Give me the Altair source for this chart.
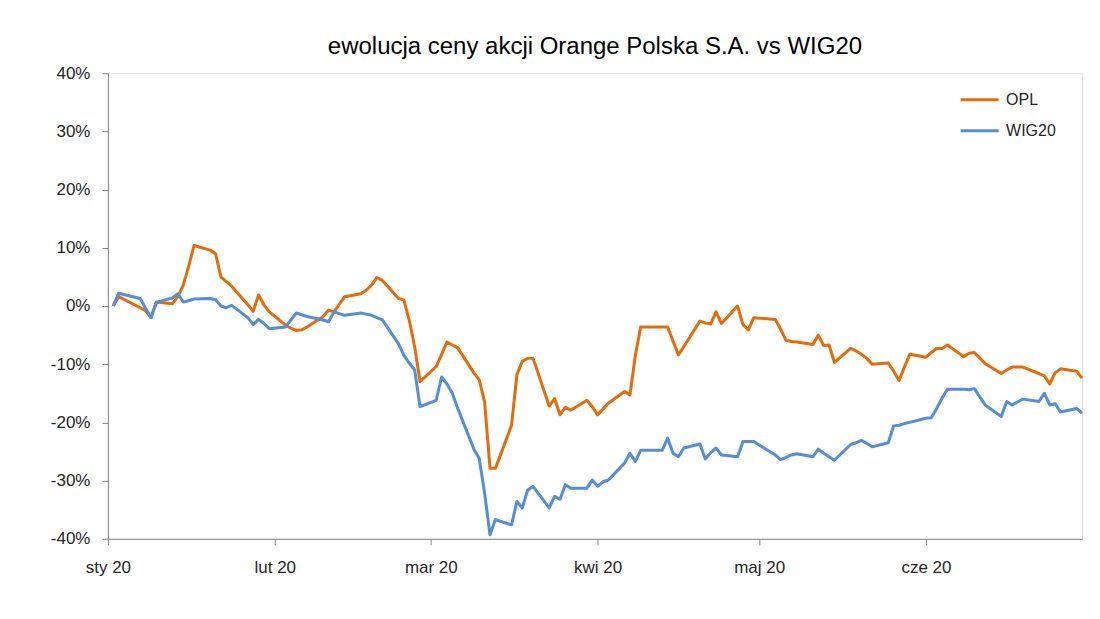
import altair as alt
import pandas as pd

# trading days (Apr 10 / Apr 13 kept flat as in the source chart)
dates = [
    "2020-01-02", "2020-01-03", "2020-01-07", "2020-01-08", "2020-01-09", "2020-01-10",
    "2020-01-13", "2020-01-14", "2020-01-15", "2020-01-16", "2020-01-17",
    "2020-01-20", "2020-01-21", "2020-01-22", "2020-01-23", "2020-01-24",
    "2020-01-27", "2020-01-28", "2020-01-29", "2020-01-30", "2020-01-31",
    "2020-02-03", "2020-02-04", "2020-02-05", "2020-02-06", "2020-02-07",
    "2020-02-10", "2020-02-11", "2020-02-12", "2020-02-13", "2020-02-14",
    "2020-02-17", "2020-02-18", "2020-02-19", "2020-02-20", "2020-02-21",
    "2020-02-24", "2020-02-25", "2020-02-26", "2020-02-27", "2020-02-28",
    "2020-03-02", "2020-03-03", "2020-03-04", "2020-03-05", "2020-03-06",
    "2020-03-09", "2020-03-10", "2020-03-11", "2020-03-12", "2020-03-13",
    "2020-03-16", "2020-03-17", "2020-03-18", "2020-03-19", "2020-03-20",
    "2020-03-23", "2020-03-24", "2020-03-25", "2020-03-26", "2020-03-27",
    "2020-03-30", "2020-03-31", "2020-04-01", "2020-04-02", "2020-04-03",
    "2020-04-06", "2020-04-07", "2020-04-08", "2020-04-09", "2020-04-10",
    "2020-04-13", "2020-04-14", "2020-04-15", "2020-04-16", "2020-04-17",
    "2020-04-20", "2020-04-21", "2020-04-22", "2020-04-23", "2020-04-24",
    "2020-04-27", "2020-04-28", "2020-04-29", "2020-04-30",
    "2020-05-04", "2020-05-05", "2020-05-06", "2020-05-07", "2020-05-08",
    "2020-05-11", "2020-05-12", "2020-05-13", "2020-05-14", "2020-05-15",
    "2020-05-18", "2020-05-19", "2020-05-20", "2020-05-21", "2020-05-22",
    "2020-05-25", "2020-05-26", "2020-05-27", "2020-05-28", "2020-05-29",
    "2020-06-01", "2020-06-02", "2020-06-03", "2020-06-04", "2020-06-05",
    "2020-06-08", "2020-06-09", "2020-06-10", "2020-06-12",
    "2020-06-15", "2020-06-16", "2020-06-17", "2020-06-18", "2020-06-19",
    "2020-06-22", "2020-06-23", "2020-06-24", "2020-06-25", "2020-06-26",
    "2020-06-29", "2020-06-30",
]

# % change since start
opl = [
    0.0, 1.6, -0.3, -0.8, -2.0, 0.7,
    0.4, 1.6, 3.6, 6.8, 10.4,
    9.6, 9.0, 5.0, 4.2, 3.4,
    0.2, -0.9, 1.9, 0.2, -1.0,
    -3.3, -3.8, -4.2, -4.1, -3.6,
    -1.8, -0.7, -1.0, 0.3, 1.6,
    2.1, 2.7, 3.6, 4.9, 4.4,
    1.3, 1.0, -2.5, -7.0, -13.0,
    -10.4, -8.3, -6.2, -6.7, -7.2,
    -11.5, -12.7, -16.5, -27.9, -27.9,
    -20.5, -11.8, -9.5, -9.0, -9.0,
    -17.2, -15.9, -18.7, -17.4, -17.9,
    -16.2, -17.3, -18.7, -17.7, -16.7,
    -14.7, -15.3, -8.5, -3.6, -3.6,
    -3.6, -3.6, -6.0, -8.4, -7.0,
    -2.6, -2.9, -3.1, -1.0, -3.0,
    0.0, -3.2, -4.1, -2.0,
    -2.3, -4.0, -5.9, -6.1, -6.2,
    -6.6, -5.0, -6.8, -6.7, -9.7,
    -7.3, -7.7, -8.3, -9.0, -10.0,
    -9.8, -11.2, -12.8, -10.5, -8.3,
    -8.8, -8.0, -7.3, -7.3, -6.7,
    -8.7, -8.1, -8.0, -9.9,
    -11.6, -11.0, -10.5, -10.5, -10.5,
    -11.6, -12.0, -13.4, -11.5, -10.8,
    -11.2, -12.4,
]

wig20 = [
    0.0, 2.2, 1.3, -0.4, -2.0, 0.6,
    1.4, 2.1, 0.7, 0.9, 1.2,
    1.3, 1.1, 0.0, -0.3, 0.1,
    -2.0, -3.2, -2.3, -3.0, -3.9,
    -3.6, -2.4, -1.2, -1.5, -1.8,
    -2.4, -2.7, -1.0, -1.3, -1.6,
    -1.2, -1.4, -1.6, -2.0, -2.4,
    -6.5, -8.5, -9.8, -11.0, -17.3,
    -16.2, -12.2, -13.4, -15.0, -17.6,
    -24.6, -26.2, -32.2, -39.3, -36.7,
    -37.6, -33.6, -34.7, -31.6, -31.0,
    -34.7, -32.7, -33.2, -30.7, -31.3,
    -31.3, -29.9, -31.0, -30.2, -29.9,
    -27.0, -25.3, -26.7, -24.8, -24.8,
    -24.8, -22.7, -25.3, -25.9, -24.4,
    -23.7, -26.3, -25.2, -24.4, -25.6,
    -25.9, -23.3, -23.3, -23.3,
    -25.6, -26.4, -26.0, -25.6, -25.4,
    -25.9, -24.6, -25.3, -25.9, -26.5,
    -23.8, -23.5, -23.1, -23.6, -24.2,
    -23.5, -20.6, -20.5, -20.2, -20.0,
    -19.3, -19.2, -17.6, -15.8, -14.3,
    -14.3, -14.4, -14.2, -17.0,
    -19.0, -16.4, -17.0, -16.5, -16.0,
    -16.4, -15.0, -17.0, -16.8, -18.2,
    -17.6, -18.4,
]

series_names = ["OPL", "WIG20"]
series_colors = ["#E46C0A", "#558ED5"]
month_labels = ["sty 20", "lut 20", "mar 20", "kwi 20", "maj 20", "cze 20"]
y_ticks = [-40, -30, -20, -10, 0, 10, 20, 30, 40]

n = len(dates)
df = pd.DataFrame({
    "data": dates + dates,
    "zmiana": opl + wig20,
    "seria": [series_names[0]] * n + [series_names[1]] * n,
})

month_ticks = [alt.DateTime(year=2020, month=m, date=1, utc=True) for m in range(1, 7)]
label_expr = "[" + ",".join("'" + s + "'" for s in month_labels) + "][utcmonth(datum.value)]"

FONT = "Liberation Sans"

chart = alt.Chart(df).mark_line(strokeWidth=3, strokeJoin="round").encode(
    x=alt.X(
        "data:T",
        scale=alt.Scale(
            type="utc",
            domain=[alt.DateTime(year=2020, month=1, date=1, utc=True),
                    alt.DateTime(year=2020, month=6, date=30, utc=True)],
        ),
        axis=alt.Axis(
            values=month_ticks,
            labelExpr=label_expr,
            title=None,
            grid=False,
            tickSize=6,
            labelPadding=15,
            labelFontSize=17,
            labelFont=FONT,
            labelColor="#262626",
            domainColor="#868686",
            tickColor="#868686",
            labelFlush=False,
        ),
    ),
    y=alt.Y(
        "zmiana:Q",
        scale=alt.Scale(domain=[-40, 40], nice=False),
        axis=alt.Axis(
            values=y_ticks,
            labelExpr="datum.value + '%'",
            title=None,
            grid=False,
            tickSize=6,
            labelPadding=12,
            labelFontSize=17,
            labelFont=FONT,
            labelColor="#262626",
            domainColor="#868686",
            tickColor="#868686",
        ),
    ),
    color=alt.Color(
        "seria:N",
        scale=alt.Scale(domain=series_names, range=series_colors),
        legend=alt.Legend(
            title=None,
            orient="none",
            legendX=852,
            legendY=6,
            symbolType="stroke",
            symbolSize=1444,
            symbolStrokeWidth=3,
            labelFontSize=16,
            labelFont=FONT,
            labelColor="#262626",
            labelOffset=6,
            rowPadding=2,
        ),
    ),
).properties(
    width=975,
    height=466,
    title=alt.TitleParams(
        "ewolucja ceny akcji Orange Polska S.A. vs WIG20",
        fontSize=24,
        font=FONT,
        fontWeight="normal",
        color="#000000",
        anchor="middle",
        offset=5,
    ),
    autosize=alt.AutoSizeParams(type="none"),
    padding={"left": 100, "top": 65, "right": 10, "bottom": 60},
).configure_view(
    stroke="#BFBFBF",
    strokeDash=[2, 2],
).configure(background="white")

chart.save("out.html", embed_options={"renderer": "svg", "actions": False})
